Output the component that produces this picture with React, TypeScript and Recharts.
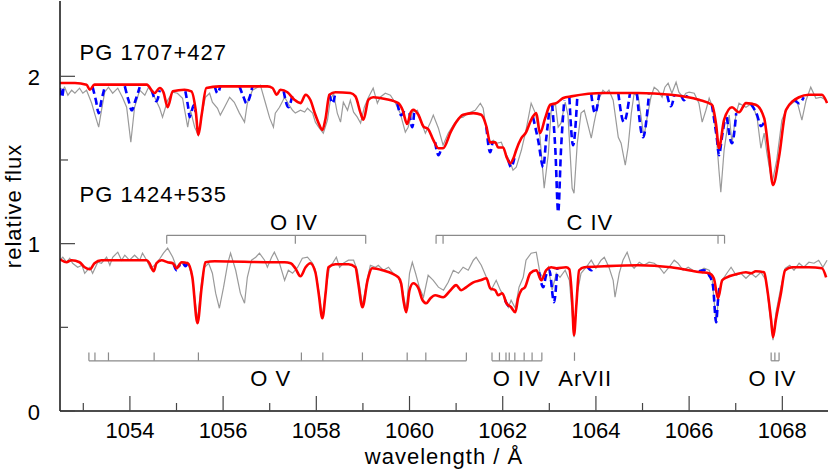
import React from 'react';
import { LineChart, Line, XAxis, YAxis, ReferenceLine, ReferenceDot } from 'recharts';

type Pt = [number, number];

// PG 1707+427, observed (plotted with +1 offset)
const obs1707: Pt[] = [
  [1052.5,1.90],[1052.60,1.935],[1052.67,1.887],[1052.75,1.917],[1052.82,1.899],[1052.92,1.929],[1052.99,1.899],[1053.07,1.917],
  [1053.18,1.839],[1053.24,1.780],[1053.33,1.696],[1053.39,1.797],[1053.46,1.905],[1053.54,1.935],[1053.63,1.899],[1053.74,1.929],
  [1053.84,1.875],[1053.93,1.815],[1054.02,1.606],[1054.10,1.815],[1054.21,1.917],[1054.32,1.887],[1054.40,1.935],[1054.53,1.875],
  [1054.64,1.809],[1054.70,1.756],[1054.81,1.857],[1054.92,1.905],[1055.02,1.899],[1055.13,1.869],[1055.24,1.696],[1055.30,1.797],
  [1055.39,1.696],[1055.47,1.648],[1055.56,1.797],[1055.62,1.875],[1055.71,1.899],[1055.77,1.845],[1055.88,1.809],[1055.94,1.768],
  [1056.03,1.815],[1056.14,1.875],[1056.24,1.845],[1056.35,1.780],[1056.46,1.726],[1056.52,1.839],[1056.63,1.917],[1056.74,1.935],
  [1056.80,1.947],[1056.91,1.839],[1057.00,1.750],[1057.08,1.696],[1057.12,1.780],[1057.21,1.815],[1057.32,1.875],[1057.42,1.827],
  [1057.49,1.797],[1057.55,1.780],[1057.66,1.797],[1057.75,1.786],[1057.81,1.809],[1057.92,1.780],[1057.98,1.726],[1058.05,1.696],
  [1058.15,1.660],[1058.24,1.738],[1058.30,1.857],[1058.37,1.899],[1058.45,1.780],[1058.52,1.726],[1058.58,1.845],[1058.67,1.797],
  [1058.73,1.857],[1058.80,1.786],[1058.88,1.756],[1058.95,1.720],[1059.03,1.815],[1059.12,1.875],[1059.22,1.929],[1059.31,1.839],
  [1059.37,1.875],[1059.48,1.899],[1059.59,1.887],[1059.70,1.839],[1059.80,1.780],[1059.91,1.666],[1059.97,1.696],[1060.06,1.786],
  [1060.17,1.797],[1060.25,1.726],[1060.34,1.660],[1060.45,1.726],[1060.51,1.768],[1060.62,1.690],[1060.72,1.588],[1060.83,1.660],
  [1060.94,1.708],[1061.05,1.750],[1061.15,1.756],[1061.26,1.780],[1061.41,1.797],[1061.52,1.839],[1061.58,1.809],[1061.65,1.678],
  [1061.73,1.606],[1061.80,1.618],[1061.86,1.600],[1061.97,1.606],[1062.05,1.546],[1062.16,1.487],[1062.22,1.439],[1062.29,1.457],
  [1062.40,1.558],[1062.50,1.678],[1062.61,1.839],[1062.70,1.780],[1062.80,1.636],[1062.89,1.331],[1062.98,1.540],[1063.04,1.797],
  [1063.13,1.839],[1063.19,1.696],[1063.25,1.720],[1063.34,1.845],[1063.40,1.768],[1063.49,1.331],[1063.53,1.301],[1063.60,1.600],
  [1063.68,1.780],[1063.75,1.797],[1063.83,1.708],[1063.90,1.630],[1063.96,1.720],[1064.07,1.869],[1064.15,1.917],[1064.22,1.899],
  [1064.28,1.917],[1064.37,1.857],[1064.48,1.636],[1064.54,1.600],[1064.63,1.469],[1064.69,1.576],[1064.76,1.780],[1064.82,1.899],
  [1064.91,1.875],[1064.97,1.756],[1065.03,1.636],[1065.10,1.756],[1065.18,1.875],[1065.25,1.935],[1065.33,1.917],[1065.42,1.875],
  [1065.48,1.935],[1065.55,1.959],[1065.63,1.899],[1065.72,1.965],[1065.78,1.905],[1065.87,1.875],[1065.93,1.899],[1066.00,1.905],
  [1066.11,1.899],[1066.21,1.839],[1066.28,1.726],[1066.36,1.797],[1066.43,1.869],[1066.49,1.827],[1066.58,1.660],[1066.64,1.439],
  [1066.68,1.307],[1066.75,1.558],[1066.86,1.768],[1066.92,1.600],[1067.01,1.780],[1067.07,1.839],[1067.22,1.815],[1067.35,1.839],
  [1067.46,1.750],[1067.54,1.570],[1067.61,1.660],[1067.67,1.540],[1067.78,1.361],[1067.88,1.499],[1067.99,1.738],[1068.10,1.815],
  [1068.21,1.839],[1068.31,1.857],[1068.42,1.738],[1068.51,1.857],[1068.61,1.935],[1068.72,1.869],[1068.83,1.875],[1068.94,1.857],
];

// PG 1707+427, final model (red)
const model1707: Pt[] = [
  [1052.5,1.96],[1052.82,1.96],[1053.07,1.95],[1053.14,1.92],[1053.24,1.95],[1053.35,1.95],[1054.36,1.95],[1054.53,1.90],
  [1054.64,1.93],[1054.72,1.905],[1054.81,1.815],[1054.92,1.91],[1055.17,1.92],[1055.32,1.91],[1055.41,1.80],[1055.47,1.65],
  [1055.54,1.77],[1055.64,1.93],[1055.92,1.94],[1056.95,1.94],[1057.06,1.93],[1057.15,1.89],[1057.23,1.92],[1057.38,1.905],
  [1057.53,1.86],[1057.66,1.84],[1057.77,1.89],[1057.87,1.86],[1057.98,1.77],[1058.05,1.72],[1058.13,1.68],[1058.20,1.75],
  [1058.28,1.89],[1058.41,1.905],[1058.73,1.90],[1058.84,1.88],[1058.95,1.78],[1059.01,1.74],[1059.12,1.86],[1059.22,1.875],
  [1059.48,1.865],[1059.76,1.84],[1059.85,1.80],[1059.95,1.715],[1060.02,1.78],[1060.08,1.80],[1060.19,1.77],[1060.30,1.70],
  [1060.40,1.685],[1060.51,1.62],[1060.62,1.57],[1060.72,1.57],[1060.88,1.665],[1061.00,1.725],[1061.15,1.77],[1061.37,1.78],
  [1061.54,1.77],[1061.65,1.70],[1061.73,1.605],[1061.84,1.605],[1061.90,1.575],[1062.01,1.575],[1062.08,1.52],[1062.16,1.48],
  [1062.23,1.51],[1062.29,1.56],[1062.40,1.63],[1062.50,1.665],[1062.61,1.74],[1062.72,1.78],[1062.80,1.66],[1062.91,1.75],
  [1063.02,1.83],[1063.15,1.84],[1063.30,1.87],[1063.47,1.88],[1064.18,1.90],[1064.90,1.90],[1065.61,1.89],[1066.21,1.86],
  [1066.49,1.83],[1066.58,1.71],[1066.64,1.57],[1066.75,1.74],[1066.92,1.815],[1067.07,1.785],[1067.22,1.84],[1067.43,1.83],
  [1067.61,1.75],[1067.71,1.54],[1067.80,1.35],[1067.93,1.52],[1068.08,1.80],[1068.36,1.875],[1068.57,1.89],[1068.85,1.89],
  [1068.96,1.84],
];

// PG 1707+427, model without the extra lines (blue dashed), only where it departs
const alt1707: Pt[][] = [
  [[1052.5,1.929],[1052.54,1.875],[1052.58,1.941]],
  [[1053.20,1.935],[1053.27,1.857],[1053.33,1.780],[1053.39,1.857],[1053.46,1.935]],
  [[1053.89,1.941],[1053.97,1.857],[1054.04,1.797],[1054.12,1.857],[1054.21,1.935]],
  [[1054.47,1.917],[1054.57,1.851],[1054.64,1.917]],
  [[1055.19,1.911],[1055.26,1.797],[1055.28,1.756],[1055.32,1.786],[1055.37,1.827],[1055.41,1.786]],
  [[1055.82,1.941],[1055.88,1.899],[1055.94,1.941]],
  [[1056.35,1.941],[1056.44,1.875],[1056.50,1.839],[1056.57,1.875],[1056.63,1.941]],
  [[1057.30,1.911],[1057.40,1.815],[1057.49,1.893]],
  [[1058.28,1.893],[1058.35,1.839],[1058.41,1.905]],
  [[1059.74,1.839],[1059.82,1.768],[1059.89,1.797]],
  [[1060.00,1.780],[1060.06,1.696],[1060.10,1.786]],
  [[1060.55,1.606],[1060.62,1.529],[1060.68,1.570]],
  [[1061.65,1.696],[1061.73,1.546],[1061.78,1.606]],
  [[1062.12,1.499],[1062.18,1.457],[1062.25,1.511]],
  [[1062.65,1.756],[1062.76,1.618],[1062.87,1.457],[1062.93,1.618],[1063.00,1.797]],
  [[1063.06,1.833],[1063.13,1.558],[1063.19,1.188],[1063.25,1.558],[1063.32,1.857]],
  [[1063.43,1.875],[1063.51,1.588],[1063.60,1.875]],
  [[1063.90,1.893],[1063.98,1.780],[1064.07,1.893]],
  [[1064.48,1.899],[1064.60,1.726],[1064.73,1.899]],
  [[1064.88,1.899],[1065.01,1.636],[1065.14,1.899]],
  [[1065.53,1.887],[1065.61,1.821],[1065.68,1.887]],
  [[1065.83,1.887],[1065.89,1.857],[1065.96,1.887]],
  [[1066.49,1.827],[1066.60,1.618],[1066.64,1.529],[1066.71,1.648],[1066.77,1.750]],
  [[1066.81,1.756],[1066.92,1.600],[1067.01,1.780]],
  [[1067.33,1.833],[1067.46,1.768],[1067.54,1.702],[1067.63,1.738]],
  [[1068.25,1.863],[1068.36,1.839],[1068.46,1.875]],
];

// PG 1424+535, observed
const obs1424: Pt[] = [
  [1052.5,0.901],[1052.56,0.919],[1052.64,0.889],[1052.71,0.913],[1052.77,0.883],[1052.88,0.859],[1052.97,0.871],[1053.03,0.823],
  [1053.14,0.859],[1053.20,0.823],[1053.31,0.889],[1053.39,0.883],[1053.50,0.919],[1053.57,0.871],[1053.63,0.919],[1053.74,0.949],
  [1053.82,0.901],[1053.89,0.931],[1053.99,0.901],[1054.10,0.931],[1054.21,0.901],[1054.27,0.943],[1054.36,0.901],[1054.44,0.853],
  [1054.53,0.871],[1054.62,0.901],[1054.72,0.943],[1054.81,0.973],[1054.92,0.919],[1055.00,0.859],[1055.09,0.889],[1055.17,0.871],
  [1055.24,0.889],[1055.34,0.799],[1055.45,0.542],[1055.54,0.781],[1055.60,0.859],[1055.69,0.883],[1055.77,0.823],[1055.84,0.704],
  [1055.92,0.614],[1056.01,0.740],[1056.10,0.883],[1056.16,0.943],[1056.27,0.841],[1056.37,0.704],[1056.46,0.644],[1056.52,0.799],
  [1056.61,0.901],[1056.70,0.919],[1056.78,0.943],[1056.89,0.901],[1056.95,0.859],[1057.04,0.919],[1057.10,0.949],[1057.21,0.883],
  [1057.32,0.781],[1057.40,0.841],[1057.49,0.823],[1057.60,0.859],[1057.70,0.913],[1057.81,0.919],[1057.92,0.883],[1057.98,0.841],
  [1058.05,0.722],[1058.13,0.560],[1058.20,0.722],[1058.28,0.853],[1058.35,0.883],[1058.43,0.919],[1058.50,0.859],[1058.58,0.883],
  [1058.69,0.901],[1058.80,0.901],[1058.88,0.841],[1058.99,0.632],[1059.10,0.799],[1059.16,0.871],[1059.27,0.859],[1059.33,0.871],
  [1059.44,0.841],[1059.55,0.859],[1059.65,0.823],[1059.76,0.799],[1059.85,0.722],[1059.93,0.602],[1060.00,0.823],[1060.06,0.889],
  [1060.13,0.823],[1060.21,0.740],[1060.30,0.680],[1060.40,0.811],[1060.51,0.781],[1060.62,0.740],[1060.73,0.722],[1060.83,0.769],
  [1060.94,0.841],[1061.05,0.823],[1061.15,0.859],[1061.26,0.841],[1061.37,0.901],[1061.43,0.919],[1061.54,0.871],[1061.65,0.799],
  [1061.75,0.722],[1061.86,0.781],[1061.95,0.722],[1062.05,0.680],[1062.12,0.620],[1062.18,0.662],[1062.27,0.614],[1062.35,0.740],
  [1062.44,0.799],[1062.50,0.901],[1062.61,0.943],[1062.72,0.949],[1062.80,0.823],[1062.87,0.799],[1062.98,0.859],[1063.06,0.722],
  [1063.15,0.823],[1063.23,0.799],[1063.34,0.841],[1063.43,0.781],[1063.49,0.584],[1063.53,0.441],[1063.60,0.704],[1063.68,0.823],
  [1063.79,0.859],[1063.90,0.901],[1064.00,0.853],[1064.11,0.901],[1064.18,0.919],[1064.28,0.859],[1064.37,0.781],[1064.41,0.680],
  [1064.50,0.823],[1064.58,0.901],[1064.67,0.949],[1064.76,0.871],[1064.82,0.853],[1064.93,0.889],[1065.03,0.871],[1065.14,0.889],
  [1065.25,0.883],[1065.36,0.859],[1065.46,0.823],[1065.57,0.859],[1065.68,0.901],[1065.76,0.883],[1065.87,0.841],[1065.98,0.859],
  [1066.08,0.841],[1066.19,0.829],[1066.32,0.853],[1066.43,0.841],[1066.49,0.799],[1066.58,0.524],[1066.64,0.704],[1066.71,0.781],
  [1066.81,0.823],[1066.90,0.859],[1067.01,0.811],[1067.11,0.823],[1067.22,0.793],[1067.33,0.823],[1067.43,0.799],[1067.54,0.829],
  [1067.65,0.781],[1067.73,0.584],[1067.80,0.423],[1067.86,0.584],[1067.97,0.740],[1068.06,0.853],[1068.16,0.871],[1068.25,0.841],
  [1068.36,0.883],[1068.46,0.859],[1068.57,0.889],[1068.68,0.883],[1068.78,0.901],[1068.87,0.859],[1068.96,0.901],
];

// PG 1424+535, final model (red)
const model1424: Pt[] = [
  [1052.5,0.907],[1052.64,0.889],[1052.75,0.901],[1052.92,0.889],[1053.03,0.859],[1053.14,0.847],[1053.24,0.883],[1053.39,0.901],
  [1054.36,0.901],[1054.42,0.883],[1054.51,0.835],[1054.57,0.883],[1054.68,0.901],[1054.81,0.889],[1054.92,0.883],[1055.00,0.853],
  [1055.11,0.889],[1055.24,0.883],[1055.34,0.799],[1055.45,0.524],[1055.54,0.740],[1055.62,0.889],[1055.82,0.895],[1057.10,0.889],
  [1057.32,0.889],[1057.45,0.883],[1057.55,0.853],[1057.66,0.805],[1057.77,0.859],[1057.87,0.883],[1057.98,0.829],[1058.05,0.704],
  [1058.13,0.554],[1058.20,0.704],[1058.26,0.859],[1058.41,0.877],[1058.69,0.877],[1058.84,0.859],[1058.90,0.763],[1058.99,0.620],
  [1059.10,0.781],[1059.20,0.853],[1059.42,0.841],[1059.76,0.799],[1059.82,0.763],[1059.87,0.662],[1059.93,0.590],[1060.00,0.722],
  [1060.08,0.763],[1060.19,0.734],[1060.28,0.662],[1060.36,0.644],[1060.45,0.674],[1060.55,0.692],[1060.72,0.680],[1060.88,0.722],
  [1061.00,0.752],[1061.11,0.722],[1061.22,0.740],[1061.37,0.769],[1061.52,0.781],[1061.65,0.793],[1061.73,0.734],[1061.84,0.722],
  [1061.90,0.692],[1061.99,0.704],[1062.08,0.644],[1062.18,0.620],[1062.27,0.590],[1062.33,0.674],[1062.40,0.722],[1062.48,0.740],
  [1062.59,0.823],[1062.72,0.841],[1062.83,0.781],[1062.93,0.841],[1063.04,0.859],[1063.15,0.853],[1063.36,0.859],[1063.43,0.847],
  [1063.49,0.662],[1063.53,0.453],[1063.58,0.632],[1063.64,0.841],[1063.75,0.859],[1064.18,0.865],[1064.91,0.871],[1065.61,0.859],
  [1066.26,0.829],[1066.43,0.823],[1066.53,0.793],[1066.62,0.674],[1066.71,0.781],[1066.81,0.799],[1067.01,0.817],[1067.22,0.829],
  [1067.33,0.823],[1067.43,0.835],[1067.61,0.829],[1067.67,0.740],[1067.76,0.542],[1067.80,0.441],[1067.86,0.542],[1067.97,0.704],
  [1068.06,0.841],[1068.21,0.859],[1068.57,0.859],[1068.85,0.853],[1068.94,0.799],
];

const alt1424: Pt[][] = [
  [[1054.94,0.877],[1055.00,0.841],[1055.07,0.877]],
  [[1055.15,0.883],[1055.19,0.865],[1055.24,0.883]],
  [[1062.05,0.662],[1062.14,0.626],[1062.20,0.626]],
  [[1062.78,0.829],[1062.87,0.740],[1062.93,0.811],[1063.00,0.841],[1063.10,0.650],[1063.17,0.853]],
  [[1063.81,0.865],[1063.90,0.841],[1063.96,0.865]],
  [[1066.21,0.835],[1066.32,0.841],[1066.43,0.811],[1066.51,0.752],[1066.58,0.530],[1066.62,0.662],[1066.66,0.752]],
];

const xTicks = [1053, 1054, 1055, 1056, 1057, 1058, 1059, 1060, 1061, 1062, 1063, 1064, 1065, 1066, 1067, 1068];
const yTicks = [0, 0.5, 1, 1.5, 2];

// line identifications (wavelengths, Å)
const oIvBracket = [1054.79, 1057.55, 1059.06];
const cIvBracket = [1060.57, 1060.72, 1066.62, 1066.76];
const oVLines = [1053.12, 1053.25, 1053.54, 1054.52, 1055.47, 1057.68, 1058.14, 1058.99, 1059.95, 1060.35, 1061.22];
const oIvLines = [1061.77, 1061.93, 1062.07, 1062.14, 1062.26, 1062.46, 1062.63, 1062.84];
const arViiLines = [1063.54];
const oIvLines2 = [1067.76, 1067.84, 1067.93];

const ionLabels = [
  { text: 'O IV', w: 1057.52, f: 1.128 },
  { text: 'C IV', w: 1063.87, f: 1.128 },
  { text: 'O V', w: 1057.02, f: 0.196 },
  { text: 'O IV', w: 1062.30, f: 0.196 },
  { text: 'ArVII', w: 1063.77, f: 0.196 },
  { text: 'O IV', w: 1067.79, f: 0.196 },
];
const starLabels = [
  { text: 'PG 1707+427', w: 1052.92, f: 2.096 },
  { text: 'PG 1424+535', w: 1052.92, f: 1.248 },
];

const FONT = '"Liberation Sans", Arial, Helvetica, sans-serif';
const TICK = '#444';
const MARK = '#8a8a8a';

const rows = (pts: Pt[]) => pts.map(([w, f]) => ({ w, f }));
const gapped = (segs: Pt[][]) =>
  segs.flatMap((s, i) => {
    if (i === 0) return rows(s);
    const prev = segs[i - 1];
    return [{ w: (prev[prev.length - 1][0] + s[0][0]) / 2, f: null as number | null }, ...rows(s)];
  });

type Seg = [{ x: number; y: number }, { x: number; y: number }];
// horizontal bar across the group plus one tick per line
const bracket = (ws: number[], base: number, end: number): Seg[] => {
  const out: Seg[] = [];
  if (ws.length > 1) out.push([{ x: ws[0], y: base }, { x: ws[ws.length - 1], y: base }]);
  ws.forEach((w) => out.push([{ x: w, y: base }, { x: w, y: end }]));
  return out;
};

const segments: Seg[] = [
  ...bracket(oIvBracket, 1.05, 1.0),
  ...bracket(cIvBracket, 1.05, 1.0),
  ...bracket(oVLines, 0.3, 0.35),
  ...bracket(oIvLines, 0.3, 0.35),
  ...bracket(arViiLines, 0.3, 0.35),
  ...bracket(oIvLines2, 0.3, 0.35),
];

const BottomTick = (p: any) => {
  const major = p.payload.value % 2 === 0;
  return (
    <g>
      <line x1={p.x} x2={p.x} y1={p.y} y2={p.y - (major ? 15 : 8)} stroke={TICK} strokeWidth={1.2} />
      {major && (
        <text x={p.x} y={p.y + 27} textAnchor="middle" fontSize={22} fontFamily={FONT} fill="#000">
          {p.payload.value}
        </text>
      )}
    </g>
  );
};

const TopTick = (p: any) => {
  const major = p.payload.value % 2 === 0;
  return <line x1={p.x} x2={p.x} y1={p.y} y2={p.y + (major ? 15 : 8)} stroke={TICK} strokeWidth={1.2} />;
};

const LeftTick = (p: any) => {
  const major = Number.isInteger(p.payload.value);
  return (
    <g>
      <line x1={p.x} x2={p.x + (major ? 15 : 8)} y1={p.y} y2={p.y} stroke={TICK} strokeWidth={1.2} />
      {major && (
        <text x={p.x - 20} y={p.y + 8.5} textAnchor="end" fontSize={22} fontFamily={FONT} fill="#000">
          {p.payload.value}
        </text>
      )}
    </g>
  );
};

const RightTick = (p: any) => {
  const major = Number.isInteger(p.payload.value);
  return <line x1={p.x} x2={p.x - (major ? 15 : 8)} y1={p.y} y2={p.y} stroke={TICK} strokeWidth={1.2} />;
};

const XTitle = (p: any) => {
  const vb = p.viewBox;
  return (
    <text x={vb.x + vb.width / 2} y={vb.y + 53} textAnchor="middle" fontSize={22} fontFamily={FONT} letterSpacing={1} fill="#000">
      wavelength / Å
    </text>
  );
};

const YTitle = (p: any) => {
  const vb = p.viewBox;
  const cx = vb.x + 1;
  const cy = vb.y + vb.height / 2;
  return (
    <text x={cx} y={cy} transform={`rotate(-90 ${cx} ${cy})`} textAnchor="middle" fontSize={22} fontFamily={FONT} letterSpacing={1} fill="#000">
      relative flux
    </text>
  );
};

const textShape = (text: string, anchor: 'start' | 'middle', central: boolean) => (p: any) => (
  <text
    x={p.cx}
    y={p.cy}
    textAnchor={anchor}
    dominantBaseline={central ? 'central' : 'alphabetic'}
    fontSize={22}
    fontFamily={FONT}
    letterSpacing={1}
    fill="#000"
  >
    {text}
  </text>
);

const axisLine = { stroke: '#111', strokeWidth: 1.5 };

export default function App() {
  return (
    <div style={{ position: 'absolute', left: 0, top: 0, width: 830, height: 474, background: '#fff' }}>
      <LineChart width={830} height={474} margin={{ top: 1, right: 2, bottom: 33, left: 20 }}>
        <XAxis
          xAxisId={0}
          dataKey="w"
          type="number"
          domain={[1052.5, 1068.98]}
          allowDataOverflow
          ticks={xTicks}
          interval={0}
          height={30}
          tickSize={0}
          tickMargin={0}
          axisLine={axisLine}
          tickLine={false}
          tick={(p: any) => <BottomTick {...p} />}
          label={<XTitle />}
        />
        <XAxis
          xAxisId="top"
          orientation="top"
          dataKey="w"
          type="number"
          domain={[1052.5, 1068.98]}
          allowDataOverflow
          ticks={xTicks}
          interval={0}
          height={0}
          tickSize={0}
          tickMargin={0}
          axisLine={axisLine}
          tickLine={false}
          tick={(p: any) => <TopTick {...p} />}
        />
        <YAxis
          yAxisId={0}
          type="number"
          domain={[0, 2.45]}
          allowDataOverflow
          ticks={yTicks}
          interval={0}
          width={40}
          tickSize={0}
          tickMargin={0}
          axisLine={axisLine}
          tickLine={false}
          tick={(p: any) => <LeftTick {...p} />}
          label={<YTitle />}
        />
        <YAxis
          yAxisId="right"
          orientation="right"
          type="number"
          domain={[0, 2.45]}
          allowDataOverflow
          ticks={yTicks}
          interval={0}
          width={0}
          tickSize={0}
          tickMargin={0}
          axisLine={axisLine}
          tickLine={false}
          tick={(p: any) => <RightTick {...p} />}
        />

        {segments.map((s, i) => (
          <ReferenceLine key={`seg-${i}`} segment={s} stroke={MARK} strokeWidth={1.2} />
        ))}

        <Line data={rows(obs1707)} dataKey="f" type="linear" stroke="#9a9a9a" strokeWidth={1.2} dot={false} isAnimationActive={false} />
        <Line data={rows(obs1424)} dataKey="f" type="linear" stroke="#9a9a9a" strokeWidth={1.2} dot={false} isAnimationActive={false} />
        <Line data={gapped(alt1707)} dataKey="f" type="monotone" stroke="#0000ff" strokeWidth={2.6} strokeDasharray="7 4" dot={false} isAnimationActive={false} />
        <Line data={gapped(alt1424)} dataKey="f" type="monotone" stroke="#0000ff" strokeWidth={2.6} strokeDasharray="7 4" dot={false} isAnimationActive={false} />
        <Line data={rows(model1707)} dataKey="f" type="monotone" stroke="#ff0000" strokeWidth={2.6} dot={false} isAnimationActive={false} />
        <Line data={rows(model1424)} dataKey="f" type="monotone" stroke="#ff0000" strokeWidth={2.6} dot={false} isAnimationActive={false} />

        {ionLabels.map((l, i) => (
          <ReferenceDot key={`ion-${i}`} x={l.w} y={l.f} r={1} shape={textShape(l.text, 'middle', true)} />
        ))}
        {starLabels.map((l, i) => (
          <ReferenceDot key={`star-${i}`} x={l.w} y={l.f} r={1} shape={textShape(l.text, 'start', false)} />
        ))}
      </LineChart>
    </div>
  );
}
